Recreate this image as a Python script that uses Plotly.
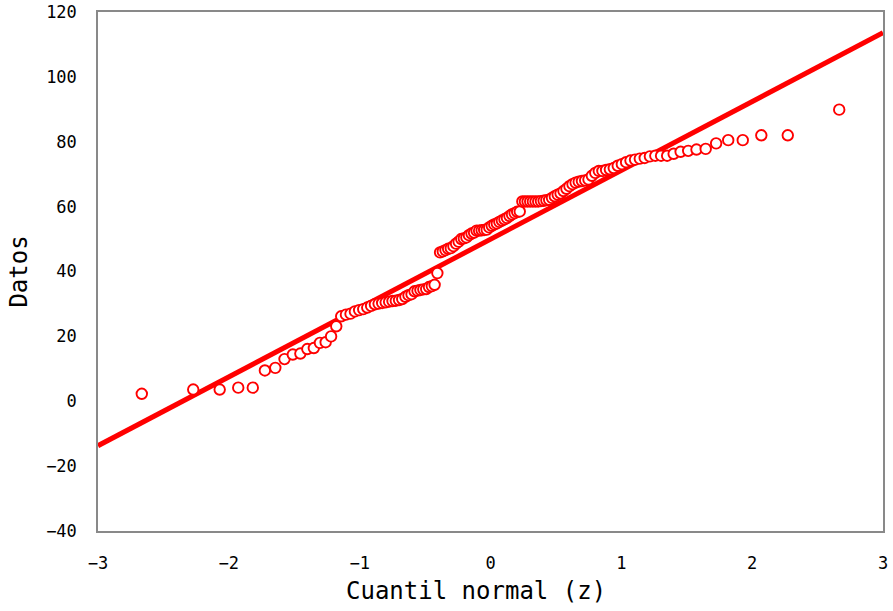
import plotly.graph_objects as go
from statistics import NormalDist

datos = [
    2.3, 3.6, 3.6, 4.2, 4.2, 9.5, 10.3, 13.0, 14.4, 14.7,
    16.1, 16.4, 18.0, 18.2, 20.0, 23.1, 26.2, 26.7, 27.0, 27.7,
    28.1, 28.4, 28.9, 29.4, 29.9, 30.1, 30.3, 30.5, 30.7, 30.9,
    31.0, 31.2, 31.5, 32.2, 32.7, 33.0, 33.9, 34.1, 34.3, 34.5,
    34.6, 35.2, 35.5, 35.9, 39.5, 45.9, 46.2, 46.6, 47.0, 47.2,
    47.8, 48.6, 49.2, 50.0, 50.2, 50.5, 51.2, 51.7, 52.0, 52.6,
    52.6, 52.7, 52.8, 52.9, 53.6, 54.1, 54.5, 54.8, 55.3, 55.7,
    56.1, 56.5, 57.1, 57.6, 58.0, 58.4, 58.5, 61.6, 61.6, 61.6,
    61.6, 61.6, 61.6, 61.6, 61.7, 61.8, 62.0, 62.1, 62.7, 63.2,
    63.7, 64.1, 64.8, 65.5, 66.3, 66.9, 67.4, 67.7, 67.9, 68.1,
    68.4, 69.5, 70.4, 71.0, 71.0, 71.3, 71.5, 71.9, 72.6, 73.1,
    73.7, 74.2, 74.5, 74.8, 75.0, 75.5, 75.7, 75.7, 75.7, 76.3,
    76.9, 77.2, 77.6, 77.8, 79.5, 80.5, 80.5, 82.0, 82.0, 89.9,
]

# Theoretical normal quantiles for each rank (Q-Q plot x positions)
n = len(datos)
nd = NormalDist()
cuantil_z = [nd.inv_cdf((i - 0.5) / n) for i in range(1, n + 1)]

# Reference line end points
linea_x = [-3, 3]
linea_y = [-13.7, 113.6]

x_ticks = [-3, -2, -1, 0, 1, 2, 3]
y_ticks = [-40, -20, 0, 20, 40, 60, 80, 100, 120]

FONT = "DejaVu Sans Mono"

fig = go.Figure()
fig.add_trace(go.Scatter(
    x=linea_x, y=linea_y, mode="lines",
    line=dict(color="#FF0000", width=5),
    hoverinfo="skip",
))
fig.add_trace(go.Scatter(
    x=cuantil_z, y=datos, mode="markers",
    marker=dict(symbol="circle", size=10.5, color="white",
                line=dict(color="#FF0000", width=1.9)),
))

axis_common = dict(
    showgrid=False, zeroline=False, showline=True, mirror=True,
    linecolor="#898989", linewidth=1.5, ticks="", automargin=False,
    tickfont=dict(family=FONT, size=17, color="black"),
)

fig.update_layout(
    width=893, height=611,
    margin=dict(l=98, r=10, t=12, b=80),
    paper_bgcolor="white", plot_bgcolor="white",
    showlegend=False,
    xaxis=dict(range=[-3, 3], tickvals=x_ticks, ticklabelstandoff=16,
               title=dict(text="", standoff=10),
               **axis_common),
    yaxis=dict(range=[-40, 120], tickvals=y_ticks, ticklabelstandoff=16,
               title=dict(text="Datos", standoff=12,
                          font=dict(family=FONT, size=24, color="black")),
               **axis_common),
    annotations=[dict(
        text="Cuantil normal (z)", xref="paper", yref="paper",
        x=0.4815, y=-0.115, xanchor="center", yanchor="middle",
        showarrow=False, font=dict(family=FONT, size=24, color="black"),
    )],
)

fig.write_html("out.html")
